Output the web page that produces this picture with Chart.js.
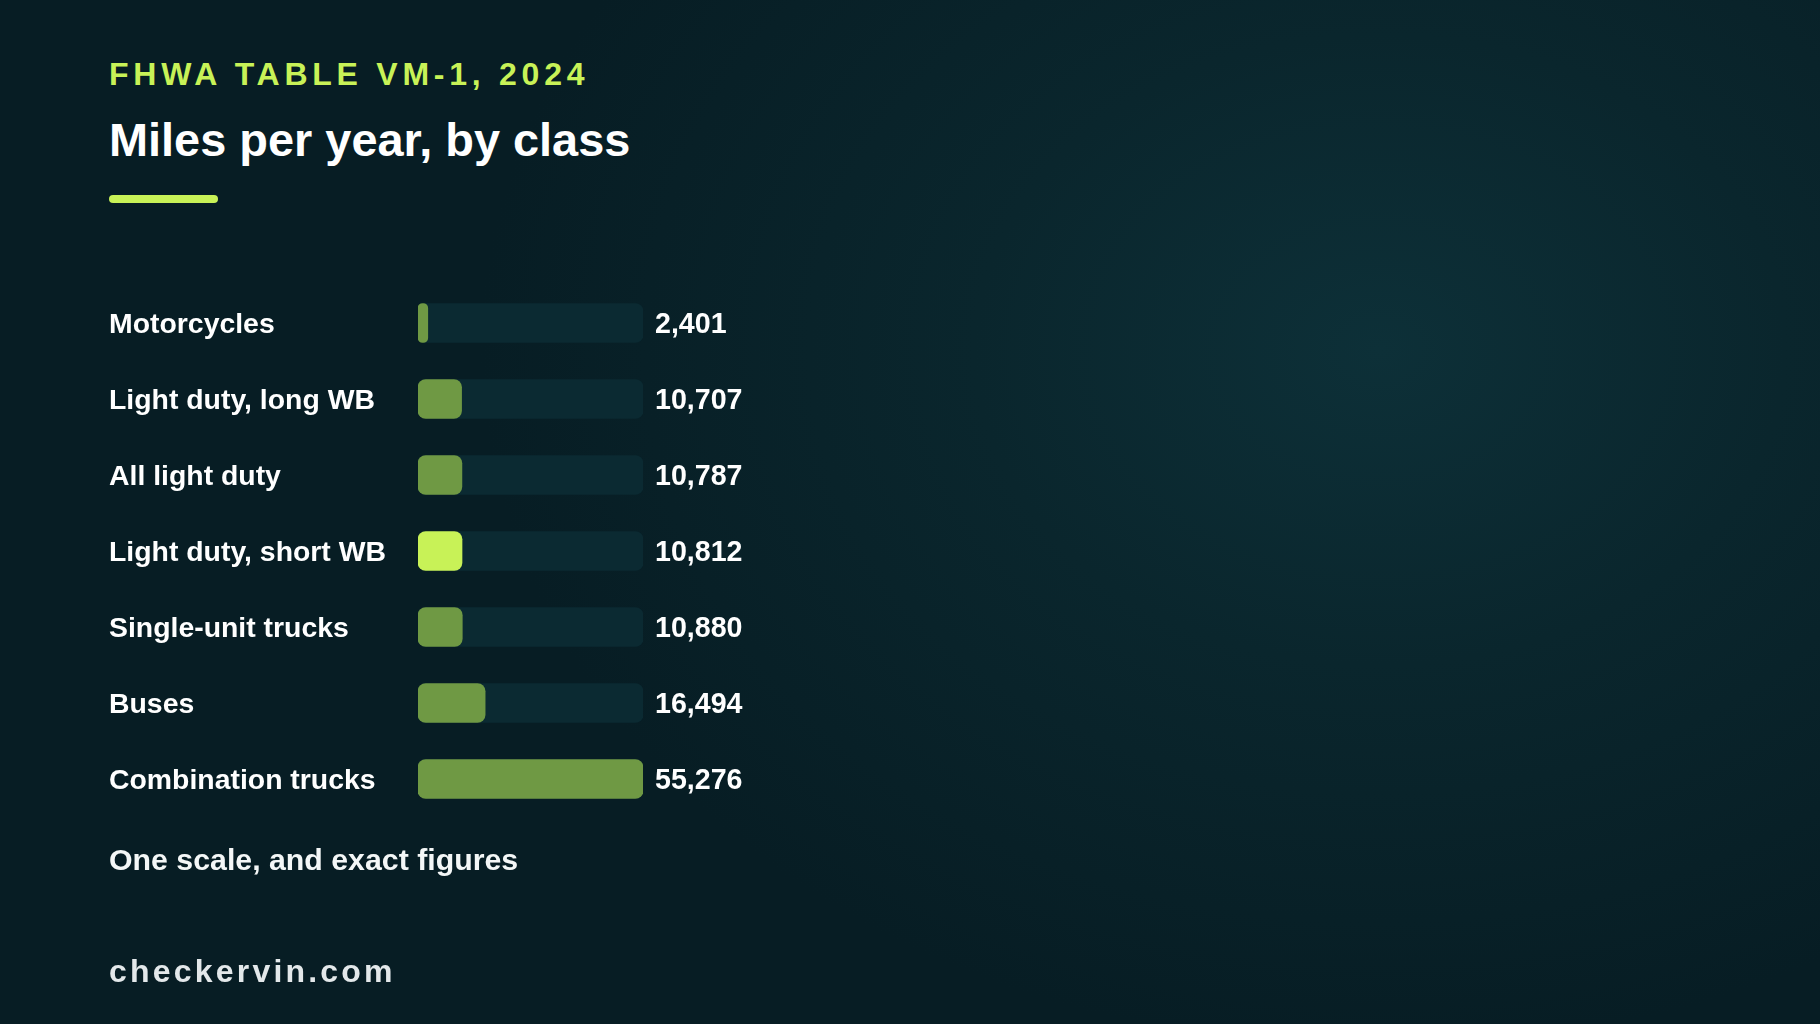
<!DOCTYPE html>
<html>
<head>
<meta charset="utf-8">
<script src="https://cdn.jsdelivr.net/npm/chart.js@4/dist/chart.umd.min.js"></script>
<style>
  html, body { margin:0; padding:0; width:1820px; height:1024px; overflow:hidden; }
  body {
    background: radial-gradient(ellipse 900px 700px at 1380px 350px, #0d3038 0%, #0a262d 45%, #071d24 100%);
    font-family: "Liberation Sans", Arial, sans-serif;
    position: relative;
  }
  #c { position:absolute; left:0; top:0; }
  .t { position:absolute; left:109px; white-space:nowrap; font-weight:bold; }
  #kicker { top:56px; font-size:32px; letter-spacing:4.75px; color:#c8f257; line-height:36px; }
  #title { top:113px; font-size:46.9px; color:#ffffff; line-height:54px; }
  #accent { position:absolute; left:109px; top:195px; width:109px; height:8px; border-radius:4px; background:#c8f257; }
  #note { top:843px; font-size:30.3px; color:#f4f7f7; line-height:34px; }
  #brand { top:953px; font-size:32px; letter-spacing:3.2px; color:#e3e8ea; line-height:36px; }
</style>
</head>
<body>
<div class="t" id="kicker">FHWA TABLE VM-1, 2024</div>
<div class="t" id="title">Miles per year, by class</div>
<div id="accent"></div>
<canvas id="c" width="1820" height="1024"></canvas>
<div class="t" id="note">One scale, and exact figures</div>
<div class="t" id="brand">checkervin.com</div>
<script>
const categories = ["Motorcycles", "Light duty, long WB", "All light duty", "Light duty, short WB", "Single-unit trucks", "Buses", "Combination trucks"];
const milesPerYear = [2401, 10707, 10787, 10812, 10880, 16494, 55276];
const highlightCategory = "Light duty, short WB";
const maxValue = Math.max(...milesPerYear);

const FONT = '"Liberation Sans", Arial, sans-serif';

const valueLabels = {
  id: 'valueLabels',
  afterDatasetsDraw(chart) {
    const ctx = chart.ctx;
    const meta = chart.getDatasetMeta(0);
    ctx.save();
    ctx.font = 'bold 28.6px ' + FONT;
    ctx.fillStyle = '#ffffff';
    ctx.textAlign = 'left';
    ctx.textBaseline = 'middle';
    meta.data.forEach((bar, i) => {
      ctx.fillText(milesPerYear[i].toLocaleString('en-US'), chart.chartArea.right + 12, bar.y + 2);
    });
    ctx.restore();
  }
};

new Chart(document.getElementById('c'), {
  type: 'bar',
  data: {
    labels: categories,
    datasets: [
      {
        data: milesPerYear,
        backgroundColor: (c) => categories[c.dataIndex] === highlightCategory ? '#c8f257' : '#6f9944',
        borderRadius: 8,
        borderSkipped: false,
        barThickness: 39,
        grouped: false,
        order: 1
      },
      {
        data: categories.map(() => maxValue),
        backgroundColor: '#0b2a32',
        borderRadius: 8,
        borderSkipped: false,
        barThickness: 39,
        grouped: false,
        order: 2
      }
    ]
  },
  options: {
    indexAxis: 'y',
    responsive: false,
    animation: false,
    devicePixelRatio: 1,
    layout: { padding: { left: 109, top: 285, bottom: 207, right: 1177 } },
    scales: {
      x: { display: false, min: 0, max: maxValue },
      y: {
        grid: { display: false },
        border: { display: false },
        ticks: {
          crossAlign: 'far',
          color: '#ffffff',
          padding: 0,
          labelOffset: 2,
          font: { family: FONT, size: 28.4, weight: 'bold' }
        },
        afterFit(scale) { scale.width = 309; }
      }
    },
    plugins: {
      legend: { display: false },
      tooltip: { enabled: false },
      title: { display: false }
    }
  },
  plugins: [valueLabels]
});
</script>
</body>
</html>
